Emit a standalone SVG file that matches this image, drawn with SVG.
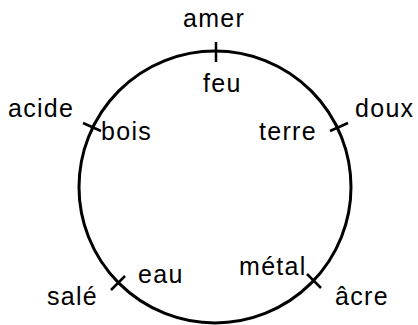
<svg xmlns="http://www.w3.org/2000/svg" width="418" height="325" viewBox="0 0 418 325">
<style>
.c{fill:none;stroke:#000;stroke-width:3}
.t{stroke:#000;stroke-width:2.5}
text{font-family:"Liberation Sans",Arial,sans-serif;font-size:25px;letter-spacing:1.3px;fill:#000}
</style>
<rect width="418" height="325" fill="#fff"/>
<g id="connectors">
<circle id="ring" class="c" cx="215" cy="187" r="136"/>
<line class="t" x1="216" y1="42" x2="216" y2="62"/>
<line class="t" x1="83" y1="123" x2="101" y2="131"/>
<line class="t" x1="348" y1="123" x2="330" y2="131"/>
<line class="t" x1="111" y1="290" x2="125" y2="276"/>
<line class="t" x1="321" y1="288" x2="307" y2="274"/>
</g>
<g id="n-amer"><text x="183" y="27">amer</text></g>
<g id="n-feu"><text x="203" y="92">feu</text></g>
<g id="n-acide"><text x="8" y="117">acide</text></g>
<g id="n-bois"><text x="101" y="140">bois</text></g>
<g id="n-doux"><text x="355" y="117">doux</text></g>
<g id="n-terre"><text x="259" y="140">terre</text></g>
<g id="n-eau"><text x="138" y="283">eau</text></g>
<g id="n-sale"><text x="47" y="305">salé</text></g>
<g id="n-metal"><text x="239" y="275">métal</text></g>
<g id="n-acre"><text x="335" y="305">âcre</text></g>
</svg>
